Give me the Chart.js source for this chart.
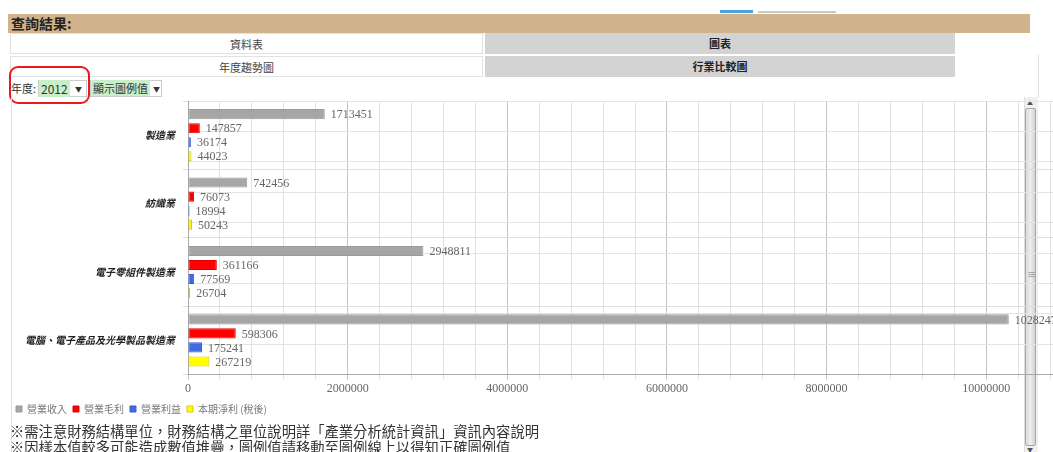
<!DOCTYPE html>
<html>
<head>
<meta charset="utf-8">
<script src="https://cdn.jsdelivr.net/npm/chart.js@4"></script>
<style>
  html, body { margin: 0; padding: 0; background: #fff; overflow: hidden; width: 1053px; height: 452px; }
  body { position: relative; font-family: "Noto Sans CJK TC", "Noto Sans", sans-serif; color: #333; }
  .abs { position: absolute; }
  .tan { left: 8px; top: 14px; width: 1022px; height: 19px; background: #d2b48c; font-weight: bold; font-size: 14px; line-height: 19px; padding-left: 3px; box-sizing: border-box; color: #222; }
  .cell { height: 21px; line-height: 21px; font-size: 11px; text-align: center; box-sizing: border-box; }
  .wcell { background: #fff; border: 1px solid #e2e2e2; color: #444; }
  .gcell { background: #d3d3d3; color: #222; font-weight: bold; }
  .sel { top: 80px; height: 17px; border: 1px solid #ccc; box-sizing: border-box; font-size: 11px; line-height: 15px; }
  .green { background: #c8efc8; padding: 0 2px; }
  .arrow { position: absolute; top: 1px; font-size: 7px; }
  .note { left: 10px; font-size: 14.3px; color: #333; white-space: nowrap; }
  .scroll { left: 1024px; top: 97px; width: 14px; height: 355px; background: #f0f0f0; border-left: 1px solid #ddd; box-sizing: border-box; }
  .thumb { left: 1025px; top: 108px; width: 11px; height: 338px; background: linear-gradient(to right, #dcdcdc, #eeeeee 50%, #d0d0d0); border: 1px solid #a8a8a8; border-radius: 2px; box-sizing: border-box; }
</style>
</head>
<body>
<div class="abs" style="left:720px;top:10px;width:33px;height:3px;background:#4aa3df;"></div>
<div class="abs" style="left:758px;top:11px;width:78px;height:2px;background:#c8c8c8;"></div>
<div class="abs tan">查詢結果:</div>
<div class="abs cell wcell" style="left:10px;top:33px;width:473px;">資料表</div>
<div class="abs cell gcell" style="left:485px;top:33px;width:470px;">圖表</div>
<div class="abs cell wcell" style="left:10px;top:56px;width:473px;">年度趨勢圖</div>
<div class="abs cell gcell" style="left:485px;top:56px;width:470px;">行業比較圖</div>
<div class="abs" style="left:1038px;top:55px;width:1px;height:42px;background:#ddd;"></div>

<div class="abs" style="left:11px;top:81px;font-size:11px;line-height:15px;">年度:</div>
<div class="abs sel" style="left:38px;width:49px;"><span class="green" style="font-size:12px;">2012</span><span class="arrow" style="left:36px;">▼</span></div>
<div class="abs sel" style="left:90px;width:72px;"><span class="green">顯示圖例值</span><span class="arrow" style="left:62px;">▼</span></div>
<div class="abs" style="left:9px;top:66px;width:81px;height:38px;border:2.5px solid #e8191f;border-radius:9px;box-sizing:border-box;"></div>

<div class="abs" style="left:11px;top:97px;width:1px;height:355px;background:#ddd;"></div>
<div class="abs scroll"></div>
<div class="abs thumb"></div>
<div class="abs" style="left:1027px;top:98px;font-size:6px;color:#555;">▲</div>
<div class="abs" style="left:1027px;top:445px;font-size:6px;color:#555;">▼</div>
<div class="abs" style="left:1027px;top:268px;font-size:9px;color:#777;">≡</div>

<div class="abs" style="left:10px;top:87px;width:1074px;height:337px;">
  <canvas id="c"></canvas>
</div>

<div class="abs note" style="top:420px;">※需注意財務結構單位，財務結構之單位說明詳「產業分析統計資訊」資訊內容說明</div>
<div class="abs note" style="top:436px;">※因樣本值較多可能造成數值堆疊，圖例值請移動至圖例線上以得知正確圖例值</div>

<script>
const categories = ["製造業", "紡織業", "電子零組件製造業", "電腦、電子產品及光學製品製造業"];
const seriesNames = ["營業收入", "營業毛利", "營業利益", "本期淨利 (稅後)"];
const revenue = [1713451, 742456, 2948811, 10282470];
const grossProfit = [147857, 76073, 361166, 598306];
const operatingProfit = [36174, 18994, 77569, 175241];
const netIncome = [44023, 50243, 26704, 267219];
const xTickStep = 400000;
const xLabelStep = 2000000;
const xMax = 11200000;

const fills = ["#a6a6a6", "#ff0000", "#4169e1", "#ffff00"];
const borders = ["#9a9a9a", "#e00000", "#3a5fcf", "#d8c800"];
const values = [revenue, grossProfit, operatingProfit, netIncome];

const labelPlugin = {
  id: 'valueLabels',
  afterDatasetsDraw(chart) {
    const ctx = chart.ctx;
    ctx.save();
    ctx.font = "12px 'Liberation Serif', serif";
    ctx.fillStyle = "#666";
    ctx.textBaseline = "middle";
    ctx.textAlign = "left";
    chart.data.datasets.forEach((ds, i) => {
      const meta = chart.getDatasetMeta(i);
      meta.data.forEach((el, j) => {
        ctx.fillText(String(ds.data[j]), el.x + 6, el.y + 1);
      });
    });
    ctx.restore();
  }
};

new Chart(document.getElementById('c'), {
  type: 'bar',
  data: {
    labels: categories,
    datasets: seriesNames.map((n, i) => ({
      label: n,
      data: values[i],
      backgroundColor: fills[i],
      borderColor: borders[i],
      borderWidth: 1,
      borderSkipped: false,
      categoryPercentage: 0.82,
      barPercentage: 0.72
    }))
  },
  options: {
    indexAxis: 'y',
    responsive: true,
    maintainAspectRatio: false,
    animation: false,
    layout: { padding: { top: 0, left: 0, right: 0, bottom: 0 } },
    scales: {
      x: {
        min: 0,
        max: xMax,
        ticks: {
          stepSize: xTickStep,
          autoSkip: false,
          maxRotation: 0,
          padding: 2,
          color: '#666',
          font: { family: "'Liberation Serif', serif", size: 12 },
          callback: (v) => (Math.round(v) % xLabelStep === 0 ? String(Math.round(v)) : '')
        },
        grid: {
          color: (c) => (c.tick && Math.round(c.tick.value) % xLabelStep === 0 ? '#c4c4c4' : '#e2e2e2'),
          tickLength: 5
        },
        border: { color: '#aaa' }
      },
      y: {
        afterFit: (s) => { s.width = 178; },
        ticks: {
          color: '#222',
          padding: 8,
          font: { family: "'Noto Sans CJK TC', sans-serif", size: 10, style: 'italic', weight: 'bold' }
        },
        grid: { color: '#dedede', tickLength: 5, offset: true },
        border: { color: '#aaa' }
      },
      y2: {
        type: 'linear',
        position: 'right',
        min: -0.5,
        max: 3.5,
        afterFit: (s) => { s.width = 0; },
        ticks: { display: false, stepSize: 0.5 },
        grid: { color: '#e4e4e4', drawTicks: false },
        border: { display: false }
      }
    },
    plugins: {
      tooltip: { enabled: false },
      legend: {
        position: 'bottom',
        align: 'start',
        labels: {
          boxWidth: 6,
          boxHeight: 6,
          padding: 6,
          color: '#777',
          font: { family: "'Noto Sans CJK TC', serif", size: 10 }
        }
      }
    }
  },
  plugins: [labelPlugin]
});
</script>
</body>
</html>
